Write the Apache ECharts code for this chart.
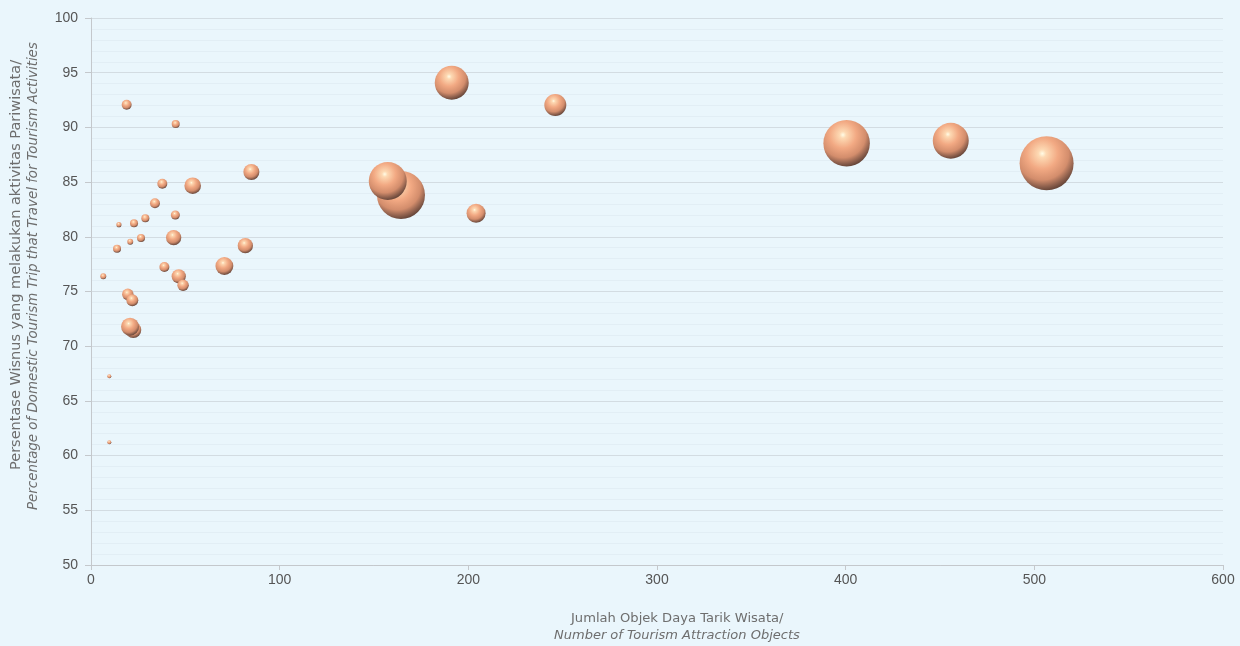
<!DOCTYPE html>
<html>
<head>
<meta charset="utf-8">
<script src="https://cdn.jsdelivr.net/npm/echarts@6/dist/echarts.min.js"></script>
<style>
  html, body { margin: 0; padding: 0; background: #eaf6fc; }
  #chart { width: 1240px; height: 646px; }
</style>
</head>
<body>
<div id="chart"></div>
<script>
// Jumlah objek daya tarik wisata per provinsi (sumbu X)
const objekWisata = [
  18.9, 44.9, 191.2, 246.1, 400.5, 455.7, 506.5, 164.3, 157.3, 204.1,
  85.0, 53.9, 37.8, 33.9, 28.8, 22.8, 14.8, 44.7, 43.8, 26.5,
  20.8, 13.8, 81.8, 70.7, 38.9, 46.5, 48.8, 6.5, 19.5, 21.9,
  22.4, 20.7, 9.7, 9.7
];
// Persentase wisnus yang melakukan aktivitas pariwisata (sumbu Y)
const persenWisata = [
  92.07, 90.3, 94.09, 92.05, 88.55, 88.78, 86.72, 83.82, 85.1, 82.15,
  85.92, 84.67, 84.85, 83.06, 81.69, 81.23, 81.11, 81.99, 79.92, 79.89,
  79.55, 78.91, 79.19, 77.33, 77.24, 76.39, 75.57, 76.39, 74.74, 74.2,
  71.48, 71.78, 67.25, 61.22
];
// Ukuran gelembung (luas sebanding dengan nilai)
const ukuranGelembung = [
  3.4, 2.2, 39.6, 16.6, 74, 44.4, 100, 79, 49.5, 12.4,
  8.8, 9.5, 3.4, 3.4, 2.2, 2.2, 0.9, 2.8, 8.0, 2.2,
  1.2, 2.2, 8.0, 11, 3.4, 7.0, 4.5, 1.2, 4.5, 4.9,
  8.8, 11.1, 0.55, 0.55
];
const xTicks = [0, 100, 200, 300, 400, 500, 600];
const yTicks = [50, 55, 60, 65, 70, 75, 80, 85, 90, 95, 100];

const points = objekWisata.map((x, i) => [x, persenWisata[i], ukuranGelembung[i]]);

// Bola berbayang: sorotan terang di kiri atas, tepi gelap di kanan bawah
const sphere = {
  type: 'radial', x: 0.42, y: 0.32, r: 0.72,
  colorStops: [
    { offset: 0, color: '#fffce6' },
    { offset: 0.1, color: '#fdd9b3' },
    { offset: 0.4, color: '#f2a983' },
    { offset: 0.68, color: '#d38d6c' },
    { offset: 0.85, color: '#8e604d' },
    { offset: 1, color: '#553a30' }
  ]
};

const titleFont = '"DejaVu Sans", sans-serif';

const chart = echarts.init(document.getElementById('chart'), null, { renderer: 'canvas' });
chart.setOption({
  backgroundColor: '#eaf6fc',
  animation: false,
  grid: { left: 91, right: 17, top: 18, bottom: 81, containLabel: false },
  xAxis: {
    type: 'value', min: xTicks[0], max: xTicks[xTicks.length - 1], interval: 100,
    axisLine: { show: true, lineStyle: { color: '#c4c8cc', width: 1 } },
    axisTick: { show: true, length: 5, lineStyle: { color: '#c4c8cc' } },
    axisLabel: { color: '#555', fontFamily: 'Liberation Sans, Arial', fontSize: 14, margin: 8 },
    splitLine: { show: false }
  },
  yAxis: {
    type: 'value', min: yTicks[0], max: yTicks[yTicks.length - 1], interval: 5,
    axisLine: { show: true, lineStyle: { color: '#c4c8cc', width: 1 } },
    axisTick: { show: true, length: 6, lineStyle: { color: '#c4c8cc' } },
    axisLabel: { color: '#555', fontFamily: 'Liberation Sans, Arial', fontSize: 14, margin: 13 },
    splitLine: { show: true, lineStyle: { color: '#d3dce2', width: 1 } },
    minorTick: { show: false, splitNumber: 5 },
    minorSplitLine: { show: true, lineStyle: { color: '#e2eef5', width: 1 } }
  },
  graphic: [
    {
      type: 'text', left: 571, top: 612,
      style: { text: 'Jumlah Objek Daya Tarik Wisata/', fill: '#6e6e6e', font: '13.1px ' + titleFont }
    },
    {
      type: 'text', left: 554, top: 629,
      style: { text: 'Number of Tourism Attraction Objects', fill: '#6e6e6e', font: 'oblique 13px ' + titleFont }
    },
    {
      type: 'text', x: 9, y: 470, rotation: Math.PI / 2,
      style: { text: 'Persentase Wisnus yang melakukan aktivitas Pariwisata/', fill: '#6e6e6e', font: '14.5px ' + titleFont }
    },
    {
      type: 'text', x: 27, y: 510, rotation: Math.PI / 2,
      style: { text: 'Percentage of Domestic Tourism Trip that Travel for Tourism Activities', fill: '#6e6e6e', font: 'oblique 13.4px ' + titleFont }
    }
  ],
  series: [{
    type: 'scatter',
    data: points,
    symbol: 'circle',
    symbolSize: v => Math.sqrt(v[2]) * 5.4,
    itemStyle: { color: sphere, opacity: 1 },
    emphasis: { disabled: true }
  }]
});
</script>
</body>
</html>
